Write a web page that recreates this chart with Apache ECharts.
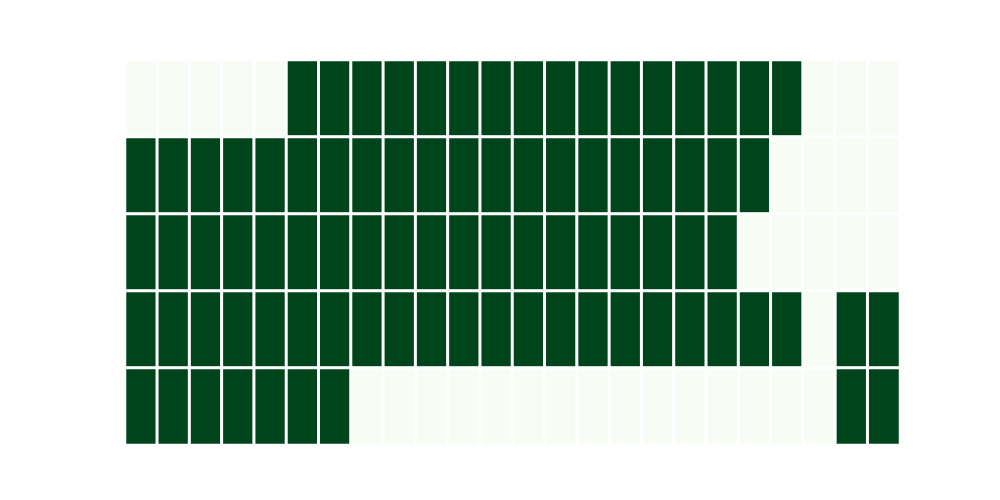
<!DOCTYPE html>
<html>
<head>
<meta charset="utf-8">
<script src="https://cdn.jsdelivr.net/npm/echarts@6/dist/echarts.min.js"></script>
<style>
  html, body { margin: 0; padding: 0; background: #fff; }
  #chart { width: 1000px; height: 500px; }
</style>
</head>
<body>
<div id="chart"></div>
<script>
// 24 columns x 5 rows, binary values (1 = dark, 0 = light), rows listed top to bottom
const columns = Array.from({ length: 24 }, (_, i) => String(i))
const rows = ['0', '1', '2', '3', '4']
const row0 = [0,0,0,0,0,1,1,1,1,1,1,1,1,1,1,1,1,1,1,1,1,0,0,0]
const row1 = [1,1,1,1,1,1,1,1,1,1,1,1,1,1,1,1,1,1,1,1,0,0,0,0]
const row2 = [1,1,1,1,1,1,1,1,1,1,1,1,1,1,1,1,1,1,1,0,0,0,0,0]
const row3 = [1,1,1,1,1,1,1,1,1,1,1,1,1,1,1,1,1,1,1,1,1,0,1,1]
const row4 = [1,1,1,1,1,1,1,0,0,0,0,0,0,0,0,0,0,0,0,0,0,0,1,1]
const grid = [row0, row1, row2, row3, row4]

const cells = []
grid.forEach((r, y) => r.forEach((v, x) => cells.push([x, y, v])))

const chart = echarts.init(document.getElementById('chart'))
chart.setOption({
  animation: false,
  grid: { left: 125, right: 100, top: 60, bottom: 55 },
  xAxis: {
    type: 'category',
    data: columns,
    show: false,
  },
  yAxis: {
    type: 'category',
    data: rows,
    inverse: true,
    show: false,
  },
  visualMap: {
    show: false,
    min: 0,
    max: 1,
    inRange: { color: ['#f7fcf5', '#00441b'] },
  },
  series: [{
    type: 'heatmap',
    data: cells,
    itemStyle: { borderColor: '#ffffff', borderWidth: 3 },
    emphasis: { disabled: true },
  }],
})
</script>
</body>
</html>
